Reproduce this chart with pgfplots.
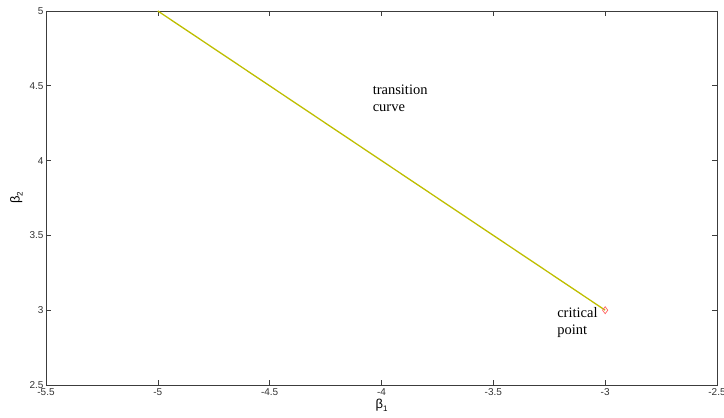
\documentclass[border=0pt]{standalone}
\usepackage{fontspec}
\setmainfont{Liberation Serif}
\newfontfamily\arialf{Liberation Sans}
\usepackage{pgfplots}
\pgfplotsset{compat=1.18}
\definecolor{curvecol}{RGB}{190,190,0}
\definecolor{ptcol}{RGB}{255,100,100}
\definecolor{axcol}{RGB}{60,60,60}
\begin{document}
\begin{tikzpicture}
\begin{axis}[
  scale only axis,
  width=671pt, height=374pt,
  xmin=-5.5, xmax=-2.5, ymin=2.5, ymax=5,
  xtick={-5.5,-5,-4.5,-4,-3.5,-3,-2.5},
  ytick={2.5,3,3.5,4,4.5,5},
  xticklabels={-5.5,-5,-4.5,-4,-3.5,-3,-2.5},
  yticklabels={2.5,3,3.5,4,4.5,5},
  tick align=inside,
  major tick length=5pt,
  axis line style={axcol, line width=0.8pt},
  every tick/.style={axcol, line width=0.6pt},
  tick label style={font=\arialf\fontsize{10}{11}\selectfont, text=black!80},
  /pgf/number format/assume math mode=true,
  xticklabel style={yshift=0pt},
  yticklabel style={xshift=1pt},
  xlabel={\arialf\fontsize{13}{13}\selectfont β\raisebox{-3pt}{\fontsize{8}{8}\selectfont 1}},
  ylabel={\arialf\fontsize{13}{13}\selectfont β\raisebox{-3pt}{\fontsize{8}{8}\selectfont 2}},
  xlabel style={yshift=3pt},
  ylabel style={yshift=0pt},
  clip=false,
]
\addplot[curvecol, line width=1.3pt] coordinates {(-5,5) (-3,3)};
\addplot[only marks, mark=diamond, mark size=3.5pt, mark options={ptcol, line width=0.7pt}] coordinates {(-3,3)};
\node[anchor=north west, align=left, font=\fontsize{14.5}{17}\selectfont, inner sep=0pt] at (axis cs:-4.04,4.51) {transition\\curve};
\node[anchor=north west, align=left, font=\fontsize{14.5}{17}\selectfont, inner sep=0pt] at (axis cs:-3.215,3.02) {critical\\point};
\coordinate (sw) at (rel axis cs:0,0);
\coordinate (ne) at (rel axis cs:1,1);
\end{axis}
\pgfresetboundingbox
\path ([shift={(-46pt,-32pt)}]sw) rectangle ([shift={(7pt,11pt)}]ne);
\end{tikzpicture}
\end{document}
